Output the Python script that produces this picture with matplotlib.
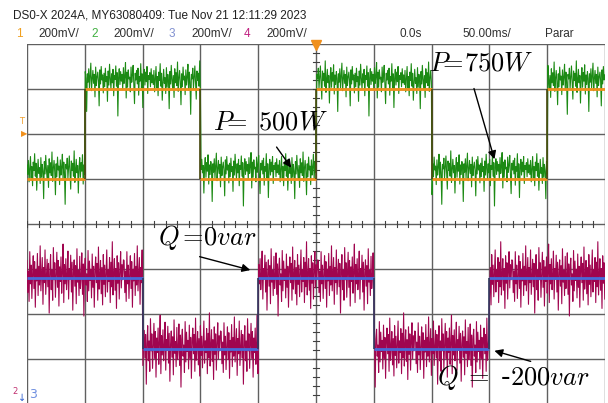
import numpy as np
import matplotlib.pyplot as plt

plt.rcParams['mathtext.fontset'] = 'cm'

# time base: 50 ms/div, 10 divs; vertical: 8 divs
P_EDGES = [-250, -200, -100, 0, 100, 200, 250]   # ms
P_LEVELS = [1.0, 3.0, 1.0, 3.0, 1.0, 3.0]        # div
Q_EDGES = [-250, -150, -50, 50, 150, 250]
Q_LEVELS = [-1.2, -2.78, -1.2, -2.78, -1.2]

# noise, hundredths of a division
G_NOISE = [25, 8, 33, -5, 18, 40, 2, 22, -12, 30, 15, 45, 5, 28, -20, 12, 35, 10, 20, -8,
           38, 3, 26, 14, -35, 31, 9, 42, 17, 0, 24, -15, 36, 11, 29, 6, 48, -4, 19, 33,
           13, -28, 27, 4, 39, 16, 23, -10, 34, 7, 21, 44, -2, 30, 12, -45, 26, 18, 37, 1,
           22, 41, 9, -18, 32, 15, 28, 5, 50, -6, 17, 35, 11, 24, -25, 20, 38, 3, 29, 14,
           43, -9, 25, 8, 31, 19, -40, 27, 12, 36, 2, 23, 46, -3, 18, 33, 10, 26, -14, 39,
           6, 21, 30, 15, -30, 34, 9, 40, 16, 25, -7, 28, 4, 37, 13, 22, -22, 32, 7, 44,
           19, 0, 27, 11, 35, -12, 24, 17, 41, 5, 29, -48, 20, 36, 8, 31, 14, 26, -1, 38,
           10, 23, 47, -16, 30, 3, 34, 18, 21, -5, 39, 12, 25, 42, 6, -26, 28, 16, 33, 9,
           37, -11, 22, 14, 45, 2, 27, -33, 19, 35, 7, 30, 13, 40, -8, 24, 17, 29, 4, 36, 11]
M_NOISE = [30, -25, 12, -40, 45, -10, 22, -35, 5, 38, -18, 28, -50, 15, -5, 42, -30, 20, -12, 55,
           -22, 8, 35, -45, 18, -8, 48, -28, 2, 32, -15, 25, -60, 10, 40, -20, 14, -38, 52, -3,
           26, -33, 6, 44, -16, 30, -48, 19, -6, 36, -26, 11, 58, -42, 23, -10, 33, -20, 4, 46,
           -36, 16, -2, 39, -24, 27, -55, 9, 31, -14, 21, -44, 50, -7, 13, -30, 37, -18, 1, 43,
           -28, 24, -65, 17, 34, -12, 7, -40, 47, -22, 29, -4, 15, -34, 41, -16, 20, -50, 12, 36,
           -8, 25, -38, 53, -19, 3, 30, -27, 18, -46, 40, -11, 22, -32, 9, 48, -24, 14, -6, 35,
           -42, 27, -15, 62, -29, 6, 33, -21, 16, -52, 38, -9, 26, -36, 11, 45, -17, 23, -3, 31]

W, H = 608, 403


def level_at(t, edges, levels):
    idx = np.searchsorted(edges, t, side='right') - 1
    idx = np.clip(idx, 0, len(levels) - 1)
    return np.array(levels)[idx]


def main():
    fig = plt.figure(figsize=(W / 100, H / 100), dpi=100)
    ax = fig.add_axes([27 / W, -1 / H, 578 / W, 360 / H])
    ax.set_xlim(-250, 250)
    ax.set_ylim(-4, 4)
    ax.axis('off')

    # graticule
    for x in range(-250, 251, 50):
        ax.axvline(x, color='#606060', lw=1.0, zorder=1)
    for y in range(-4, 5):
        ax.axhline(y, color='#606060', lw=1.0, zorder=1)
    for y in np.arange(-4, 4.01, 0.2):
        ax.plot([-2.6, 2.6], [y, y], color='#404040', lw=0.8, zorder=1)
    for x in np.arange(-250, 251, 10):
        ax.plot([x, x], [-0.07, 0.07], color='#404040', lw=0.8, zorder=1)

    t = np.arange(-250, 250.01, 0.6)
    g = 1.25 * np.array([G_NOISE[i % len(G_NOISE)] for i in range(len(t))]) / 100
    m = 1.3 * np.array([M_NOISE[i % len(M_NOISE)] for i in range(len(t))]) / 100

    ax.plot(t, level_at(t, P_EDGES, P_LEVELS) + g, color='#1c8a14', lw=0.8, zorder=2)
    ax.plot(t, level_at(t, Q_EDGES, Q_LEVELS) + m, color='#a0054f', lw=0.8, zorder=2)

    # reference channels 1 and 3
    ax.hlines(P_LEVELS, P_EDGES[:-1], P_EDGES[1:], color='#f0901c', lw=2, zorder=3)
    ax.vlines(P_EDGES[1:-1], P_LEVELS[:-1], P_LEVELS[1:], color='#4a4a10', lw=1.2, zorder=3)
    ax.hlines(Q_LEVELS, Q_EDGES[:-1], Q_EDGES[1:], color='#4a6ad8', lw=2, zorder=3)
    ax.vlines(Q_EDGES[1:-1], Q_LEVELS[:-1], Q_LEVELS[1:], color='#303a60', lw=1.2, zorder=3)

    # annotations
    arrow = dict(arrowstyle='-|>', color='k', lw=1, mutation_scale=12)
    ax.text(-89, 2.09, r'$P\!\!=\;500W$', fontsize=19, zorder=5)
    ax.annotate('', xy=(-20, 1.2), xytext=(-35.5, 1.76), arrowprops=arrow, zorder=5)
    ax.text(98, 3.42, r'$P\!\!=\!750W$', fontsize=19, zorder=5)
    ax.annotate('', xy=(155, 1.38), xytext=(136, 3.07), arrowprops=arrow, zorder=5)
    ax.text(-137, -0.47, r'$Q\;\!\!=\!0var$', fontsize=19, zorder=5)
    ax.annotate('', xy=(-54.5, -1.04), xytext=(-103, -0.71), arrowprops=arrow, zorder=5)
    ax.text(105, -3.58, r'$Q\;=\;$-$200var$', fontsize=19, zorder=5)
    ax.annotate('', xy=(152, -2.8), xytext=(188, -3.07), arrowprops=arrow, zorder=5)

    # markers
    ax.plot([0], [3.97], marker='v', color='#f0901c', ms=7, clip_on=False, zorder=6)
    fig.text(22 / W, 1 - 122 / H, 'T', color='#f0a030', fontsize=6, ha='center', va='center')
    fig.text(24 / W, 1 - 134 / H, '\u25b6', color='#f0901c', fontsize=6, ha='center', va='center')
    fig.text(15 / W, 1 - 391 / H, '2', color='#c03070', fontsize=6, ha='center', va='center')
    fig.text(22 / W, 1 - 398 / H, '\u2193', color='#3060d0', fontsize=7, ha='center', va='center')
    fig.text(33 / W, 1 - 395 / H, '3', color='#7090e0', fontsize=9, ha='center', va='center')

    # header
    hdr = dict(fontsize=8.5, va='center', family=['Liberation Sans', 'DejaVu Sans'])
    fig.text(13 / W, 1 - 15 / H, 'DS0-X 2024A, MY63080409: Tue Nov 21 12:11:29 2023', color='#202020', **hdr)
    chans = [('1', '#f0a020', 16), ('2', '#40b040', 91), ('3', '#8090d0', 169), ('4', '#c02080', 244)]
    for num, col, x in chans:
        fig.text(x / W, 1 - 34 / H, num, color=col, **hdr)
        fig.text((x + 22) / W, 1 - 34 / H, '200mV/', color='#303030', **hdr)
    fig.text(400 / W, 1 - 34 / H, '0.0s', color='#303030', **hdr)
    fig.text(462 / W, 1 - 34 / H, '50.00ms/', color='#303030', **hdr)
    fig.text(545 / W, 1 - 34 / H, 'Parar', color='#303030', **hdr)

    fig.savefig('out.png', dpi=100)


if __name__ == "__main__":
    main()
